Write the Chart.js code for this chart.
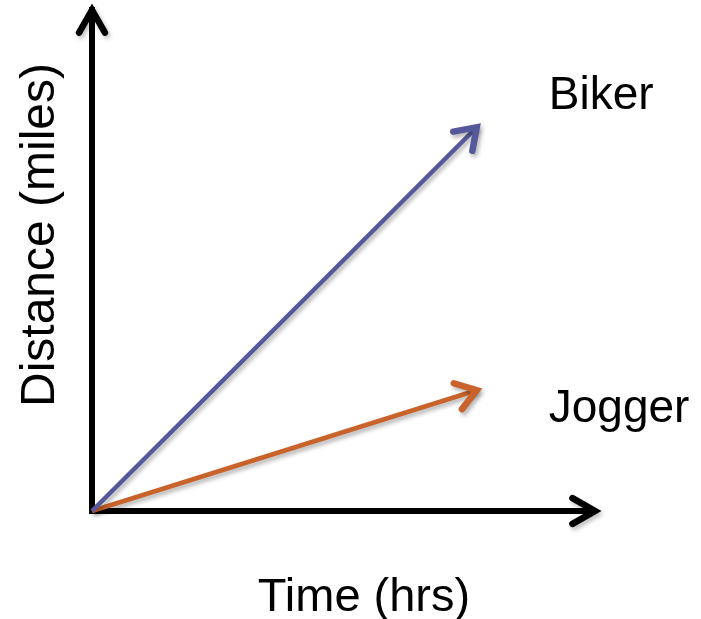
<!DOCTYPE html>
<html>
<head>
<meta charset="utf-8">
<script src="https://cdn.jsdelivr.net/npm/chart.js@4/dist/chart.umd.min.js"></script>
<style>
html,body{margin:0;padding:0;background:#fff;}
#wrap{width:701px;height:619px;}
</style>
</head>
<body>
<div id="wrap"><canvas id="c" width="701" height="619"></canvas></div>
<script>
const seriesNames = ['Biker', 'Jogger'];
const timeValues = [0, 7.65];
const bikerDistance = [0, 7.66];
const joggerDistance = [0, 2.41];
const seriesColors = ['#55599A', '#C9622B'];
const xTitle = 'Time (hrs)';
const yTitle = 'Distance (miles)';
const labelPos = [{x: 9.08, y: 8.02}, {x: 9.08, y: 1.78}];

function pts(xs, ys){ return xs.map((x,i)=>({x:x, y:ys[i]})); }

function chevron(ctx, x, y, ang, len, spread, w, color){
  ctx.save();
  ctx.strokeStyle = color;
  ctx.lineWidth = w;
  ctx.lineCap = 'round';
  ctx.lineJoin = 'miter';
  ctx.beginPath();
  ctx.moveTo(x - len*Math.cos(ang - spread), y - len*Math.sin(ang - spread));
  ctx.lineTo(x, y);
  ctx.lineTo(x - len*Math.cos(ang + spread), y - len*Math.sin(ang + spread));
  ctx.stroke();
  ctx.restore();
}

const decor = {
  id: 'decor',
  beforeDatasetsDraw(chart){
    const ctx = chart.ctx;
    ctx.save();
    ctx.shadowColor = 'rgba(0,0,0,0.30)';
    ctx.shadowBlur = 4;
    ctx.shadowOffsetX = 2;
    ctx.shadowOffsetY = 3;
  },
  afterDatasetsDraw(chart){
    const ctx = chart.ctx;
    chart.data.datasets.forEach((ds, i) => {
      const meta = chart.getDatasetMeta(i);
      const p = meta.data[meta.data.length-1];
      const q = meta.data[meta.data.length-2];
      const ang = Math.atan2(p.y - q.y, p.x - q.x);
      chevron(ctx, p.x, p.y, ang, 24, 0.6, 6.5, ds.borderColor);
    });
    ctx.restore();
  },
  afterDraw(chart){
    const ctx = chart.ctx;
    const a = chart.chartArea;
    ctx.save();
    ctx.shadowColor = 'rgba(0,0,0,0.25)';
    ctx.shadowBlur = 4;
    ctx.shadowOffsetX = 2;
    ctx.shadowOffsetY = 3;
    chevron(ctx, a.left, a.top, -Math.PI/2, 26, 0.52, 6.5, '#000');
    chevron(ctx, a.right, a.bottom, 0, 26, 0.52, 6.5, '#000');
    ctx.restore();

    const xs = chart.scales.x, ys = chart.scales.y;
    ctx.save();
    ctx.fillStyle = '#000';
    ctx.font = '46px "Liberation Sans", Arial, sans-serif';
    ctx.textBaseline = 'alphabetic';
    ctx.textAlign = 'left';
    seriesNames.forEach((n, i) => {
      ctx.fillText(n, xs.getPixelForValue(labelPos[i].x), ys.getPixelForValue(labelPos[i].y));
    });
    ctx.textAlign = 'center';
    ctx.font = '47px "Liberation Sans", Arial, sans-serif';
    ctx.fillText(xTitle, 364, 611);
    ctx.translate(54, 235);
    ctx.rotate(-Math.PI/2);
    ctx.font = '48px "Liberation Sans", Arial, sans-serif';
    ctx.fillText(yTitle, 0, 0);
    ctx.restore();
  }
};

new Chart(document.getElementById('c'), {
  type: 'scatter',
  data: {
    datasets: [
      {label: seriesNames[0], data: pts(timeValues, bikerDistance), showLine: true, borderColor: seriesColors[0], borderWidth: 4.5, pointRadius: 0, clip: false},
      {label: seriesNames[1], data: pts(timeValues, joggerDistance), showLine: true, borderColor: seriesColors[1], borderWidth: 4.5, pointRadius: 0, clip: false}
    ]
  },
  options: {
    responsive: false,
    animation: false,
    devicePixelRatio: 1,
    layout: {padding: {left: 92, right: 106, top: 10, bottom: 108}},
    plugins: {legend: {display: false}, tooltip: {enabled: false}},
    scales: {
      x: {type: 'linear', min: 0, max: 10, ticks: {display: false}, grid: {display: false, drawTicks: false}, border: {display: true, color: '#000', width: 6}},
      y: {type: 'linear', min: 0, max: 10, ticks: {display: false}, grid: {display: false, drawTicks: false}, border: {display: true, color: '#000', width: 6}}
    }
  },
  plugins: [decor]
});
</script>
</body>
</html>
